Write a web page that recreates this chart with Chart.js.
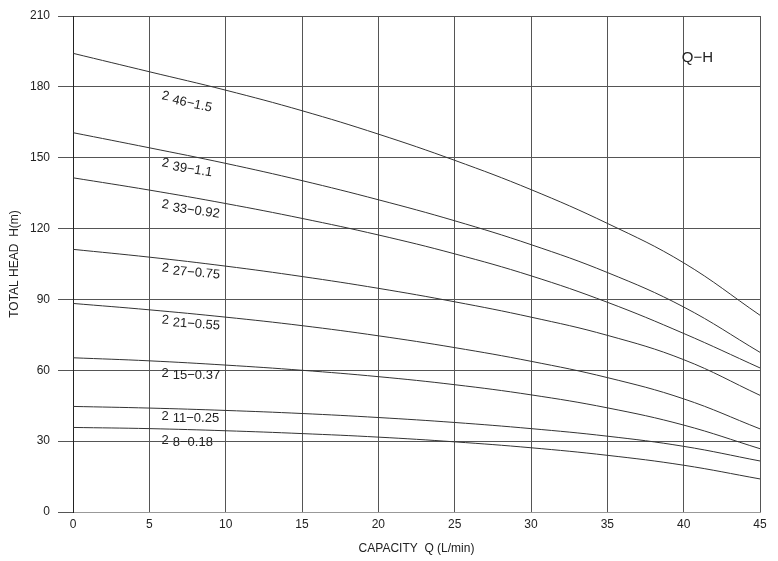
<!DOCTYPE html>
<html>
<head>
<meta charset="utf-8">
<script src="https://cdn.jsdelivr.net/npm/chart.js@4.4.1/dist/chart.umd.min.js"></script>
<style>
  html, body { margin: 0; padding: 0; background: #fff; }
  #wrap { width: 778px; height: 561px; position: relative; }
</style>
</head>
<body>
<div id="wrap"><canvas id="qh"></canvas></div>
<script>
// capacity Q (L/min)
const flow = [0, 5, 10, 15, 20, 25, 30, 35, 40, 45];

// head H (m) for each pump model
const h46 = [194.2, 186.4, 178.6, 169.9, 160.0, 148.9, 136.5, 122.2, 105.5, 83.3];
const h39 = [160.6, 154.2, 147.6, 140.3, 132.2, 123.3, 113.2, 101.4, 86.8, 67.6];
const h33 = [141.5, 136.3, 130.6, 124.3, 117.3, 109.3, 100.0, 88.8, 75.6, 61.0];
const h27 = [111.2, 107.9, 104.1, 99.7, 94.7, 89.0, 82.5, 74.8, 64.5, 49.4];
const h21 = [88.3, 85.6, 82.5, 78.9, 74.6, 69.6, 63.8, 56.9, 47.9, 35.2];
const h15 = [65.3, 64.0, 62.2, 60.0, 57.3, 53.9, 49.6, 44.1, 36.8, 26.8];
const h11 = [44.7, 44.0, 43.0, 41.7, 40.0, 37.9, 35.3, 32.1, 27.8, 21.6];
const h8  = [35.8, 35.3, 34.4, 33.2, 31.7, 29.7, 27.2, 24.0, 19.8, 14.0];

const models = ['46−1.5', '39−1.1', '33−0.92', '27−0.75', '21−0.55', '15−0.37', '11−0.25', '8−0.18'];
const series = [h46, h39, h33, h27, h21, h15, h11, h8];

// where each model tag sits (Q, H) and its tilt in degrees
const tagQ = [5.8, 5.8, 5.8, 5.8, 5.8, 5.8, 5.8, 5.8];
const tagH = [175.5, 147, 129.5, 102.5, 80.5, 58, 39.6, 29.6];
const tagTilt = [12, 9, 8, 5, 4, 0, 0, 0];

const FONT = '"Liberation Sans", Arial, sans-serif';
const INK = '#222';
const GRID = '#555';

const tagPlugin = {
  id: 'tags',
  afterDatasetsDraw(chart) {
    const { ctx, scales: { x, y } } = chart;
    ctx.save();
    ctx.fillStyle = INK;
    ctx.font = '13px ' + FONT;
    ctx.textBaseline = 'middle';
    models.forEach((m, i) => {
      const px = x.getPixelForValue(tagQ[i]);
      const py = y.getPixelForValue(tagH[i]);
      ctx.save();
      ctx.translate(px, py);
      ctx.rotate(tagTilt[i] * Math.PI / 180);
      ctx.fillText('2', 0, -2);
      ctx.fillText(m, ctx.measureText('2').width + 4, 0);
      ctx.restore();
    });
    // Q-H caption
    ctx.font = '15px ' + FONT;
    ctx.textAlign = 'center';
    ctx.fillText('Q−H', x.getPixelForValue(40.9), y.getPixelForValue(192.3));
    ctx.restore();
  }
};

new Chart(document.getElementById('qh'), {
  type: 'line',
  data: {
    labels: flow,
    datasets: series.map((s, i) => ({
      label: models[i],
      data: s.map((v, k) => ({ x: flow[k], y: v })),
      borderColor: '#333',
      borderWidth: 1,
      pointRadius: 0,
      fill: false,
      tension: 0.4,
    })),
  },
  options: {
    responsive: true,
    maintainAspectRatio: false,
    animation: false,
    layout: { padding: { top: 16, right: 18, left: 0, bottom: 0 } },
    plugins: { legend: { display: false }, tooltip: { enabled: false } },
    scales: {
      x: {
        type: 'linear',
        min: 0, max: 45,
        ticks: { stepSize: 5, color: INK, font: { family: FONT, size: 12 }, padding: 5, maxRotation: 0 },
        grid: { color: GRID, lineWidth: 1, drawTicks: false },
        border: { color: '#999', width: 1 },
        title: { display: true, text: 'CAPACITY  Q (L/min)', color: INK, font: { family: FONT, size: 12 }, padding: { bottom: 5, top: 0 } },
        afterFit(scale) { scale.height = 49; },
      },
      y: {
        min: 0, max: 210,
        ticks: { stepSize: 30, color: INK, font: { family: FONT, size: 12 }, padding: 8 },
        grid: { color: GRID, lineWidth: 1, tickLength: 15, tickColor: GRID },
        border: { color: '#222', width: 1 },
        title: { display: true, text: 'TOTAL HEAD  H(m)', color: INK, font: { family: FONT, size: 12 }, padding: { top: 7, bottom: 0 } },
        afterFit(scale) { scale.width = 73; },
      },
    },
  },
  plugins: [tagPlugin],
});
</script>
</body>
</html>
